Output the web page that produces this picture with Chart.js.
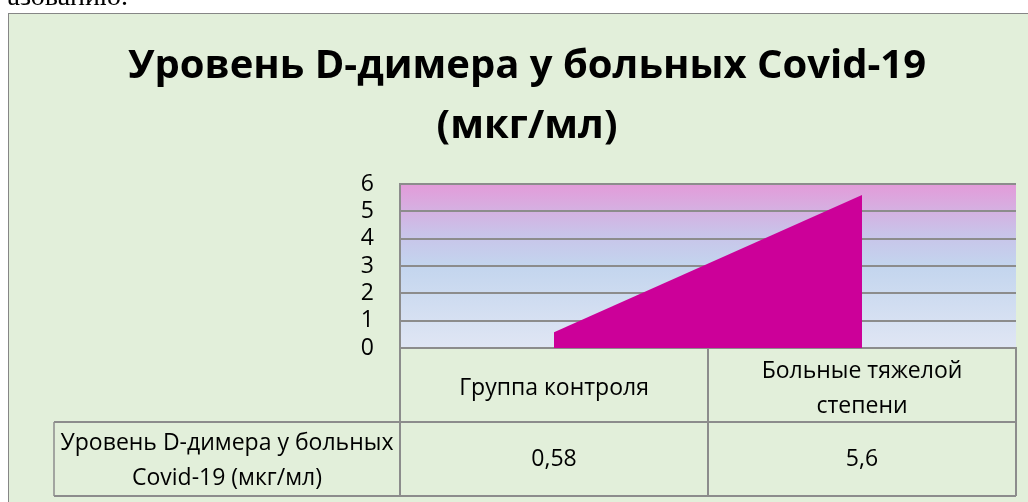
<!DOCTYPE html>
<html>
<head>
<meta charset="utf-8">
<script src="https://cdn.jsdelivr.net/npm/chart.js@4.4.1/dist/chart.umd.min.js"></script>
<style>
  html, body { margin: 0; padding: 0; background: #ffffff; overflow: hidden; }
  #wrap { position: relative; width: 1028px; height: 502px; }
  canvas { display: block; }
</style>
</head>
<body>
<div id="wrap"><canvas id="chart" width="1028" height="502"></canvas></div>
<script>
// Chart content
const titleLines = ['Уровень D-димера у больных Covid-19', '(мкг/мл)'];
const categories = [['Группа контроля'], ['Больные тяжелой', 'степени']];
const seriesLabel = ['Уровень D-димера у больных', 'Covid-19 (мкг/мл)'];
const dDimer = [0.58, 5.6];
const yTicks = [0, 1, 2, 3, 4, 5, 6];
const precedingText = 'азованию.';

const FONT = "'Open Sans', 'Noto Sans', sans-serif";
const GRID = '#8c8c8c';

// Page backdrop, framed chart panel and the gradient plot background
const framePlugin = {
  id: 'frame',
  beforeDraw(chart) {
    const ctx = chart.ctx;
    const { left, top, right, bottom } = chart.chartArea;
    ctx.save();
    ctx.fillStyle = '#ffffff';
    ctx.fillRect(0, 0, chart.width, chart.height);

    ctx.fillStyle = '#000000';
    ctx.font = "28px 'Liberation Serif', 'DejaVu Serif', serif";
    ctx.textAlign = 'right';
    ctx.textBaseline = 'alphabetic';
    ctx.fillText(precedingText, 128, 5);

    ctx.fillStyle = '#e2efda';
    ctx.fillRect(8, 13, chart.width, chart.height);
    ctx.strokeStyle = '#868686';
    ctx.lineWidth = 1;
    ctx.strokeRect(8.5, 13.5, chart.width + 10, chart.height + 10);

    const g = ctx.createLinearGradient(0, top, 0, bottom);
    g.addColorStop(0, '#e39bd9');
    g.addColorStop(0.3, '#c9c3e9');
    g.addColorStop(0.5, '#c3d5ee');
    g.addColorStop(1, '#e0e6f4');
    ctx.fillStyle = g;
    ctx.fillRect(left, top, right - left, bottom - top);
    ctx.restore();
  }
};

// Data table under the category axis, aligned to the category scale
const tablePlugin = {
  id: 'dataTable',
  afterDraw(chart) {
    const ctx = chart.ctx;
    const xs = chart.scales.x;
    const area = chart.chartArea;
    const centers = dDimer.map((_, i) => xs.getPixelForValue(i));
    const half = (centers[1] - centers[0]) / 2;
    const bounds = [centers[0] - half].concat(centers.map(c => c + half));
    const headTop = area.bottom;
    const rowTop = xs.bottom;
    const rowBottom = rowTop + (xs.bottom - xs.top);
    const labelLeft = 54;

    ctx.save();
    ctx.strokeStyle = GRID;
    ctx.lineWidth = 2;
    ctx.beginPath();
    bounds.forEach(b => { ctx.moveTo(b, headTop); ctx.lineTo(b, rowBottom); });
    ctx.moveTo(labelLeft, rowTop); ctx.lineTo(bounds[bounds.length - 1], rowTop);
    ctx.moveTo(labelLeft, rowBottom); ctx.lineTo(bounds[bounds.length - 1], rowBottom);
    ctx.stroke();
    ctx.lineWidth = 1.5;
    ctx.beginPath();
    ctx.moveTo(labelLeft, rowTop); ctx.lineTo(labelLeft, rowBottom);
    ctx.stroke();

    ctx.fillStyle = '#000000';
    ctx.font = '23px ' + FONT;
    ctx.textAlign = 'center';
    ctx.textBaseline = 'middle';
    const mid = (rowTop + rowBottom) / 2;
    const lh = 35;
    seriesLabel.forEach((line, i) => {
      ctx.fillText(line, (labelLeft + bounds[0]) / 2, mid - lh / 2 + i * lh + 2);
    });
    dDimer.forEach((v, i) => {
      ctx.fillText(v.toLocaleString('ru-RU'), centers[i], mid);
    });
    ctx.restore();
  }
};

new Chart(document.getElementById('chart'), {
  type: 'line',
  data: {
    labels: categories,
    datasets: [{
      label: seriesLabel.join(' '),
      data: dDimer,
      fill: 'origin',
      backgroundColor: '#cc0099',
      borderWidth: 0,
      borderColor: 'rgba(0,0,0,0)',
      pointRadius: 0,
      tension: 0
    }]
  },
  options: {
    responsive: false,
    devicePixelRatio: 1,
    animation: false,
    layout: { padding: { left: 38, right: 12, top: 0, bottom: 80 } },
    plugins: {
      legend: { display: false },
      tooltip: { enabled: false },
      title: {
        display: true,
        text: titleLines,
        color: '#000000',
        font: { family: FONT, size: 40, weight: 'bold', lineHeight: 1.5 },
        padding: { top: 37, bottom: 27 }
      }
    },
    scales: {
      x: {
        offset: true,
        grid: { display: false },
        border: { display: true, color: GRID, width: 2 },
        ticks: {
          color: '#000000',
          font: { family: FONT, size: 23, lineHeight: 1.52 },
          padding: 15,
          crossAlign: 'center',
          maxRotation: 0,
          autoSkip: false
        },
        afterFit(scale) { scale.height = 74; }
      },
      y: {
        min: 0,
        max: 6,
        afterBuildTicks(scale) { scale.ticks = yTicks.map(v => ({ value: v })); },
        grid: { color: GRID, lineWidth: 2, drawTicks: false },
        border: { display: true, color: GRID, width: 2 },
        ticks: {
          color: '#000000',
          font: { family: FONT, size: 23 },
          padding: 26,
          autoSkip: false
        },
        afterFit(scale) { scale.width = 362; }
      }
    }
  },
  plugins: [framePlugin, tablePlugin]
});
</script>
</body>
</html>
